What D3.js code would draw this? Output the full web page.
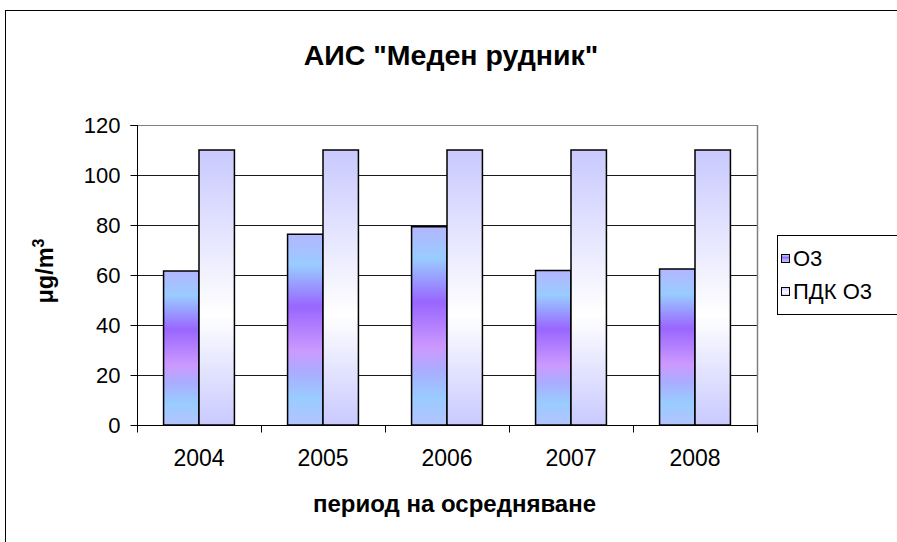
<!DOCTYPE html>
<html>
<head>
<meta charset="utf-8">
<script src="https://cdn.jsdelivr.net/npm/d3@7"></script>
<style>
  html, body { margin: 0; padding: 0; background: #fff; }
  svg { display: block; font-family: "Liberation Sans", Arial, sans-serif; }
</style>
</head>
<body>
<svg id="chart" width="897" height="542"></svg>
<script>
// Annual ozone means vs. the limit value, station "Меден рудник"
const years = ["2004", "2005", "2006", "2007", "2008"];
const o3Values = [61.6, 76.3, 79.3, 61.8, 62.4];
const limitValues = [110, 110, 110, 110, 110];
const seriesNames = ["О3", "ПДК О3"];
const yTicks = [0, 20, 40, 60, 80, 100, 120];

const titleText = "АИС \"Меден рудник\"";
const xTitle = "период на осредняване";

const svg = d3.select("#chart");
const defs = svg.append("defs");

// Multi-band fill for the O3 columns
const g1 = defs.append("linearGradient").attr("id", "gradO3")
  .attr("x1", 0).attr("y1", 0).attr("x2", 0).attr("y2", 1);
[[0, "#b3b6ff"], [0.16, "#99ccff"], [0.38, "#9966ff"], [0.61, "#cc99ff"],
 [0.73, "#a9aeff"], [0.86, "#99ccff"], [1, "#b3c4ff"]]
  .forEach(([o, c]) => g1.append("stop").attr("offset", o).attr("stop-color", c));

// Lavender-to-white fill for the limit columns
const g2 = defs.append("linearGradient").attr("id", "gradLim")
  .attr("x1", 0).attr("y1", 0).attr("x2", 0).attr("y2", 1);
[[0, "#c9c9ff"], [0.6, "#ffffff"], [1, "#c9c9ff"]]
  .forEach(([o, c]) => g2.append("stop").attr("offset", o).attr("stop-color", c));

const fills = ["url(#gradO3)", "url(#gradLim)"];

// Outer chart frame
svg.append("rect").attr("x", 5.5).attr("y", 10.5)
  .attr("width", 900).attr("height", 540)
  .attr("fill", "none").attr("stroke", "#000").attr("stroke-width", 1);

const plot = { left: 137, right: 757, top: 125, bottom: 425 };

const x = d3.scaleBand().domain(years).range([plot.left, plot.right]).paddingInner(0).paddingOuter(0);
const inner = d3.scaleBand().domain([0, 1]).range([0, x.bandwidth()])
  .paddingInner(0).paddingOuter(0.75);
const y = d3.scaleLinear().domain([0, 120]).range([plot.bottom, plot.top]);

// Horizontal gridlines
svg.append("g").selectAll("line").data(yTicks.filter(d => d > 0)).join("line")
  .attr("x1", plot.left).attr("x2", plot.right)
  .attr("y1", d => Math.round(y(d)) + 0.5).attr("y2", d => Math.round(y(d)) + 0.5)
  .attr("stroke", d => d === 120 ? "#808080" : "#1a1a1a").attr("stroke-width", 1);

// Plot-area border on the right
svg.append("line").attr("x1", plot.right + 0.5).attr("x2", plot.right + 0.5)
  .attr("y1", plot.top).attr("y2", plot.bottom)
  .attr("stroke", "#808080").attr("stroke-width", 1.5);

// Bars
const groups = svg.append("g").selectAll("g").data(years).join("g")
  .attr("transform", d => `translate(${x(d)},0)`);
groups.each(function (yr, i) {
  const vals = [o3Values[i], limitValues[i]];
  d3.select(this).selectAll("rect").data(vals).join("rect")
    .attr("x", (d, k) => inner(k))
    .attr("width", inner.bandwidth())
    .attr("y", d => y(d))
    .attr("height", d => y(0) - y(d))
    .attr("fill", (d, k) => fills[k])
    .attr("stroke", "#000").attr("stroke-width", 1.5);
});

// Y axis
const yAxis = svg.append("g").attr("transform", `translate(${plot.left + 0.5},0)`)
  .call(d3.axisLeft(y).tickValues(yTicks).tickSize(7).tickPadding(10));
yAxis.select(".domain").attr("stroke", "#000").attr("d", `M-7,${plot.top + 0.5}H0V${plot.bottom + 0.5}`);
yAxis.selectAll(".tick line").attr("stroke", "#000");
yAxis.selectAll("text").attr("font-size", 22).attr("fill", "#000")
  .attr("font-family", "Liberation Sans, Arial, sans-serif");

// X axis with ticks between categories
const xAxisG = svg.append("g").attr("transform", `translate(0,${plot.bottom + 0.5})`);
xAxisG.append("line").attr("x1", plot.left).attr("x2", plot.right + 1)
  .attr("stroke", "#000");
const boundaries = years.map(d => x(d)).concat([x(years[years.length - 1]) + x.bandwidth()]);
xAxisG.selectAll("line.tk").data(boundaries).join("line").attr("class", "tk")
  .attr("x1", d => Math.round(d) + 0.5).attr("x2", d => Math.round(d) + 0.5)
  .attr("y1", 0).attr("y2", 7).attr("stroke", "#000");
xAxisG.selectAll("text").data(years).join("text")
  .attr("x", d => x(d) + x.bandwidth() / 2).attr("y", 40)
  .attr("text-anchor", "middle").attr("font-size", 23).text(d => d);

// Titles
svg.append("text").attr("x", 451).attr("y", 65).attr("text-anchor", "middle")
  .attr("font-size", 28.5).attr("font-weight", "bold").text(titleText);
svg.append("text").attr("x", 454.5).attr("y", 512).attr("text-anchor", "middle")
  .attr("font-size", 24).attr("font-weight", "bold").text(xTitle);
const yt = svg.append("text").attr("transform", "translate(53,271) rotate(-90)")
  .attr("text-anchor", "middle").attr("font-size", 23.5).attr("font-weight", "bold");
yt.append("tspan").text("μg/m");
yt.append("tspan").attr("dy", -9).attr("font-size", 16).text("3");

// Legend
const lg = svg.append("g").attr("transform", "translate(777.5,235.5)");
lg.append("rect").attr("width", 140).attr("height", 79)
  .attr("fill", "#fff").attr("stroke", "#000").attr("stroke-width", 1);
seriesNames.forEach((name, i) => {
  const row = lg.append("g").attr("transform", `translate(0,${23 + i * 33})`);
  row.append("rect").attr("x", 4).attr("y", -4).attr("width", 8).attr("height", 8)
    .attr("fill", fills[i]).attr("stroke", "#000").attr("stroke-width", 1);
  row.append("text").attr("x", 15.5).attr("y", 7.5).attr("font-size", 22).text(name);
});
</script>
</body>
</html>
